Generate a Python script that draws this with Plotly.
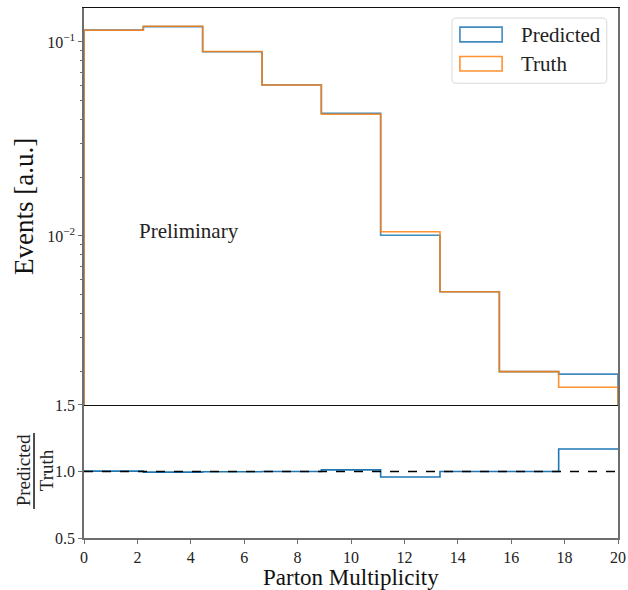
import plotly.graph_objects as go
from plotly.subplots import make_subplots

# Binning: 9 equal bins over parton multiplicity 0..20
bin_edges = [0.0, 2.222, 4.444, 6.667, 8.889, 11.111, 13.333, 15.556, 17.778, 20.0]

# Normalised event fractions per bin
predicted = [0.1153, 0.1199, 0.0891, 0.0600, 0.0429, 0.01008, 0.00516, 0.00200, 0.00194]
truth = [0.1150, 0.1205, 0.0893, 0.0600, 0.0424, 0.01052, 0.00516, 0.00200, 0.00166]

x_ticks = [0, 2, 4, 6, 8, 10, 12, 14, 16, 18, 20]
log_ticks = [0.01, 0.1]
log_tick_text = ["10<sup>−2</sup>", "10<sup>−1</sup>"]
ratio_ticks = [0.5, 1.0, 1.5]

BLUE = "#1f77b4"
ORANGE = "#ff7f0e"
FONT = "Liberation Serif"
SPINE = "#6e6e6e"


def step_outline(edges, vals, floor):
    """Closed step outline (histtype='step'): drops to the floor at both ends."""
    xs = [edges[0]] + list(edges[:-1]) + [edges[-1], edges[-1]]
    ys = [floor] + list(vals) + [vals[-1], floor]
    return xs, ys


fig = make_subplots(rows=2, cols=1, shared_xaxes=True, vertical_spacing=0,
                    row_heights=[0.749, 0.251])

floor = 1e-5
xp, yp = step_outline(bin_edges, predicted, floor)
xt, yt = step_outline(bin_edges, truth, floor)
fig.add_trace(go.Scatter(x=xp, y=yp, mode="lines", line_shape="hv",
                         line=dict(color=BLUE, width=1.6), opacity=0.85,
                         name="Predicted", showlegend=False), row=1, col=1)
fig.add_trace(go.Scatter(x=xt, y=yt, mode="lines", line_shape="hv",
                         line=dict(color=ORANGE, width=1.6), opacity=0.85,
                         name="Truth", showlegend=False), row=1, col=1)

# Ratio panel
ratio = [p / t for p, t in zip(predicted, truth)]
fig.add_trace(go.Scatter(x=bin_edges, y=ratio + [ratio[-1]], mode="lines", line_shape="hv",
                         line=dict(color=BLUE, width=1.6), showlegend=False), row=2, col=1)
fig.add_trace(go.Scatter(x=[bin_edges[0], bin_edges[-1]], y=[1.0, 1.0], mode="lines",
                         line=dict(color="black", width=1.3, dash="dash"),
                         showlegend=False), row=2, col=1)

tickfont = dict(family=FONT, size=16, color="#222")

fig.update_xaxes(range=[0, 20], showgrid=False, zeroline=False, showline=True,
                 ticks="outside", ticklen=4, tickcolor=SPINE, tickvals=x_ticks,
                 tickfont=tickfont, automargin=False)
# Top panel: black frame on top and along the panel boundary
fig.update_xaxes(showticklabels=False, linecolor="#111", linewidth=1.2, mirror=True,
                 ticks="", row=1, col=1)
# Bottom panel: grey bottom spine only (boundary drawn by the top panel)
fig.update_xaxes(linecolor=SPINE, linewidth=1.8, mirror=False, row=2, col=1)

fig.update_yaxes(type="log", range=[-2.871, -0.825], showgrid=False, zeroline=False,
                 showline=True, linecolor=SPINE, linewidth=1.5, mirror=True,
                 ticks="outside", ticklen=4, tickcolor=SPINE, automargin=False,
                 tickvals=log_ticks, ticktext=log_tick_text, tickfont=tickfont,
                 minor=dict(ticks="outside", ticklen=2.5, tickcolor=SPINE,
                            tickvals=[0.002, 0.003, 0.004, 0.005, 0.006, 0.007, 0.008,
                                      0.009, 0.02, 0.03, 0.04, 0.05, 0.06, 0.07,
                                      0.08, 0.09]),
                 title=dict(text="Events [a.u.]", font=dict(family=FONT, size=27, color="#111"),
                            standoff=6),
                 row=1, col=1)
fig.update_yaxes(range=[0.5, 1.5], showgrid=False, zeroline=False, showline=True,
                 linecolor=SPINE, linewidth=1.8, mirror=True, ticks="outside",
                 ticklen=4, tickcolor=SPINE, tickvals=ratio_ticks, tickformat=".1f",
                 tickfont=tickfont, automargin=False, row=2, col=1)

# Shared x-axis title below the ratio panel
fig.add_annotation(x=0.5, y=-0.1013, xref="paper", yref="paper", text="Parton Multiplicity",
                   showarrow=False, xanchor="center", yanchor="bottom",
                   font=dict(family=FONT, size=23, color="#111"))

# "Preliminary" tag
fig.add_annotation(x=2.0, y=-1.975, xref="x", yref="y", text="Preliminary",
                   showarrow=False, xanchor="left", yanchor="middle",
                   font=dict(family=FONT, size=21, color="#222"))

# Legend box with outlined patches
fig.add_shape(type="path", xref="paper", yref="paper",
              path="M 0.697,0.981 L 0.971,0.981 Q 0.979,0.981 0.979,0.973 L 0.979,0.866 "
                   "Q 0.979,0.858 0.971,0.858 L 0.697,0.858 Q 0.689,0.858 0.689,0.866 "
                   "L 0.689,0.973 Q 0.689,0.981 0.697,0.981 Z",
              line=dict(color="#d9d9d9", width=1), fillcolor="rgba(255,255,255,0.8)")
for label, color, y0, y1, yc in [("Predicted", BLUE, 0.936, 0.964, 0.950),
                                 ("Truth", ORANGE, 0.881, 0.9085, 0.895)]:
    fig.add_shape(type="rect", xref="paper", yref="paper", x0=0.704, x1=0.783,
                  y0=y0, y1=y1, line=dict(color=color, width=1.6), opacity=0.85,
                  fillcolor="rgba(0,0,0,0)")
    fig.add_annotation(x=0.8146, y=yc, xref="paper", yref="paper", text=label,
                       showarrow=False, xanchor="left", yanchor="middle",
                       font=dict(family=FONT, size=21, color="#222"))

# Ratio axis label as a stacked fraction
fig.add_annotation(x=-0.114, y=0.128, xref="paper", yref="paper", text="Predicted",
                   textangle=-90, showarrow=False, xanchor="center", yanchor="middle",
                   font=dict(family=FONT, size=19, color="#222"))
fig.add_annotation(x=-0.071, y=0.128, xref="paper", yref="paper", text="Truth",
                   textangle=-90, showarrow=False, xanchor="center", yanchor="middle",
                   font=dict(family=FONT, size=19, color="#222"))
fig.add_shape(type="line", xref="paper", yref="paper", x0=-0.0936, x1=-0.0936,
              y0=0.0547, y1=0.198, line=dict(color="black", width=1.4))

fig.update_layout(width=628, height=590, margin=dict(l=84, r=10, t=8, b=52),
                  paper_bgcolor="white", plot_bgcolor="white", showlegend=False)

fig.write_html("out.html")
